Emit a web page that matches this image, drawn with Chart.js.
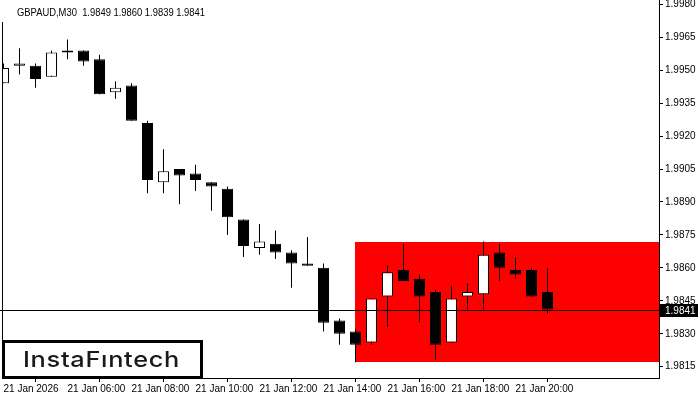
<!DOCTYPE html>
<html><head><meta charset="utf-8">
<script src="https://cdn.jsdelivr.net/npm/chart.js@4.4.1/dist/chart.umd.min.js"></script>
<style>html,body{margin:0;padding:0;background:#fff;overflow:hidden}canvas{display:block}</style>
</head><body>
<canvas id="c" width="700" height="400"></canvas>
<script>
const headerText = 'GBPAUD,M30  1.9849 1.9860 1.9839 1.9841';
const brandText = 'InstaF\u0131ntech';
const candleIndex = [0,1,2,3,4,5,6,7,8,9,10,11,12,13,14,15,16,17,18,19,20,21,22,23,24,25,26,27,28,29,30,31,32,33,34];
const opens  = [1.9944,1.9952,1.9952,1.9947,1.9959,1.9959,1.9955,1.9940,1.9943,1.9926,1.9899,1.9905,1.9903,1.9899,1.9896,1.9882,1.9869,1.9871,1.9867,1.9862,1.9860,1.9836,1.9831,1.9826,1.9847,1.9859,1.9855,1.9849,1.9826,1.9847,1.9848,1.9867,1.9859,1.9859,1.9849];
const highs  = [1.9953,1.9960,1.9953,1.9959,1.9964,1.9959,1.9957,1.9945,1.9944,1.9927,1.9914,1.9905,1.9907,1.9899,1.9897,1.9882,1.9880,1.9877,1.9868,1.9874,1.9862,1.9837,1.9832,1.9846,1.9861,1.9871,1.9857,1.9850,1.9852,1.9853,1.9872,1.9871,1.9865,1.9860,1.9860];
const lows   = [1.9944,1.9948,1.9942,1.9947,1.9955,1.9952,1.9939,1.9937,1.9927,1.9894,1.9894,1.9889,1.9895,1.9886,1.9875,1.9865,1.9866,1.9864,1.9851,1.9861,1.9831,1.9825,1.9817,1.9825,1.9833,1.9854,1.9835,1.9818,1.9826,1.9841,1.9841,1.9854,1.9855,1.9847,1.9839];
const closes = [1.9951,1.9953,1.9946,1.9958,1.9958,1.9954,1.9939,1.9942,1.9927,1.9900,1.9904,1.9902,1.9900,1.9897,1.9883,1.9870,1.9872,1.9867,1.9862,1.9861,1.9835,1.9830,1.9825,1.9846,1.9858,1.9854,1.9847,1.9825,1.9846,1.9849,1.9866,1.9860,1.9857,1.9847,1.9841];
const xTickPositions = [0,4,8,12,16,20,24,28,32];
const xTickLabels = ['21 Jan 2026','21 Jan 06:00','21 Jan 08:00','21 Jan 10:00','21 Jan 12:00','21 Jan 14:00','21 Jan 16:00','21 Jan 18:00','21 Jan 20:00'];
const yTickValues = [1.9815,1.9830,1.9845,1.9860,1.9875,1.9890,1.9905,1.9920,1.9935,1.9950,1.9965,1.9980];
const zoneStartIndex = 22;
const zoneTop = 1.9872;
const zoneBottom = 1.9817;
const currentPrice = 1.9841;

const Y_MAX = 1.9981958, Y_MIN = 1.9809858;
const X_MIN = -0.09375, X_MAX = 40.96875;
const smallFont = {family:'Liberation Sans', size:10};

const wickData = candleIndex.map(i => ({x:i, y:[lows[i], highs[i]]}));
const bodyData = candleIndex.map(i => ({x:i, y:[opens[i], closes[i]]}));
const bodyColors = candleIndex.map(i => closes[i] > opens[i] ? '#ffffff' : '#000000');

function fitText(ctx, text, x, yb, targetW){
  const w = ctx.measureText(text).width;
  ctx.save();
  ctx.translate(x, yb);
  ctx.scale(targetW / w, 1);
  ctx.fillText(text, 0, 0);
  ctx.restore();
}

const overlay = {
  id:'overlay',
  beforeDatasetsDraw(chart){
    const {ctx, chartArea:a, scales:{x,y}} = chart;
    ctx.save();
    ctx.fillStyle = '#ff0000';
    const x0 = Math.floor(x.getPixelForValue(zoneStartIndex));
    const y0 = Math.round(y.getPixelForValue(zoneTop));
    const y1 = Math.round(y.getPixelForValue(zoneBottom));
    ctx.fillRect(x0, y0, a.right - x0, y1 - y0);
    ctx.restore();
  },
  afterDatasetsDraw(chart){
    const {ctx, chartArea:a, scales:{y}} = chart;
    const py = Math.round(y.getPixelForValue(currentPrice)) + 0.5;
    ctx.save();
    ctx.strokeStyle = '#000'; ctx.lineWidth = 1;
    ctx.beginPath(); ctx.moveTo(0, py); ctx.lineTo(a.right, py); ctx.stroke();
    ctx.restore();
  },
  afterDraw(chart){
    const {ctx, chartArea:a, scales:{y}} = chart;
    ctx.save();
    // left border
    ctx.strokeStyle = '#000'; ctx.lineWidth = 1;
    ctx.beginPath(); ctx.moveTo(a.left + 0.5, 22); ctx.lineTo(a.left + 0.5, a.bottom); ctx.stroke();
    // header
    ctx.fillStyle = '#000';
    ctx.font = '10px "Liberation Sans"';
    ctx.textBaseline = 'middle'; ctx.textAlign = 'left';
    fitText(ctx, headerText, 17, 13, 188);
    // current price label
    const py = Math.round(y.getPixelForValue(currentPrice));
    ctx.fillStyle = '#000';
    ctx.fillRect(a.right + 1, py - 6, 38, 13);
    ctx.fillStyle = '#fff';
    ctx.fillText(currentPrice.toFixed(4), a.right + 6, py + 1);
    // logo
    ctx.fillStyle = '#fff';
    ctx.fillRect(2, 340, 201, 39);
    ctx.strokeStyle = '#000'; ctx.lineWidth = 3;
    ctx.strokeRect(3.5, 341.5, 198, 36);
    ctx.fillStyle = '#1a1a1a';
    ctx.font = '500 22px Inter';
    ctx.textBaseline = 'alphabetic'; ctx.textAlign = 'left';
    ctx.letterSpacing = '0.6px';
    fitText(ctx, brandText, 23, 367, 157);
    ctx.restore();
  }
};

new Chart(document.getElementById('c'), {
  type:'bar',
  data:{datasets:[
    {label:'wick', data:wickData, backgroundColor:'#000', borderWidth:0, barThickness:1, grouped:false, order:2, inflateAmount:0},
    {label:'body', data:bodyData, backgroundColor:bodyColors, borderColor:'#000', borderWidth:1, borderSkipped:false, barThickness:11, grouped:false, order:1, inflateAmount:0, minBarLength:2}
  ]},
  options:{
    responsive:false, animation:false, devicePixelRatio:1,
    layout:{padding:{left:2, top:0, right:0, bottom:0}},
    plugins:{legend:{display:false}, tooltip:{enabled:false}},
    scales:{
      x:{
        type:'linear', min:X_MIN, max:X_MAX, offset:false,
        afterBuildTicks:s => { s.ticks = xTickPositions.map(v => ({value:v})); },
        afterFit:s => { s.height = 22; s.paddingLeft = 0; s.paddingRight = 0; },
        grid:{drawOnChartArea:false, drawTicks:true, tickLength:4, color:'#000'},
        border:{display:true, color:'#000', width:1},
        ticks:{autoSkip:false, maxRotation:0, minRotation:0, align:'start', padding:1, color:'#000', font:smallFont,
          callback:(v, i) => xTickLabels[i]}
      },
      y:{
        position:'right', min:Y_MIN, max:Y_MAX,
        afterBuildTicks:s => { s.ticks = yTickValues.map(v => ({value:v})); },
        afterFit:s => { s.width = 41; s.paddingTop = 0; s.paddingBottom = 0; },
        grid:{drawOnChartArea:false, drawTicks:true, tickLength:4, color:'#000'},
        border:{display:true, color:'#000', width:1},
        ticks:{autoSkip:false, padding:2, color:'#000', font:smallFont, callback:v => Number(v).toFixed(4)}
      }
    }
  },
  plugins:[overlay]
});
</script>
</body></html>
